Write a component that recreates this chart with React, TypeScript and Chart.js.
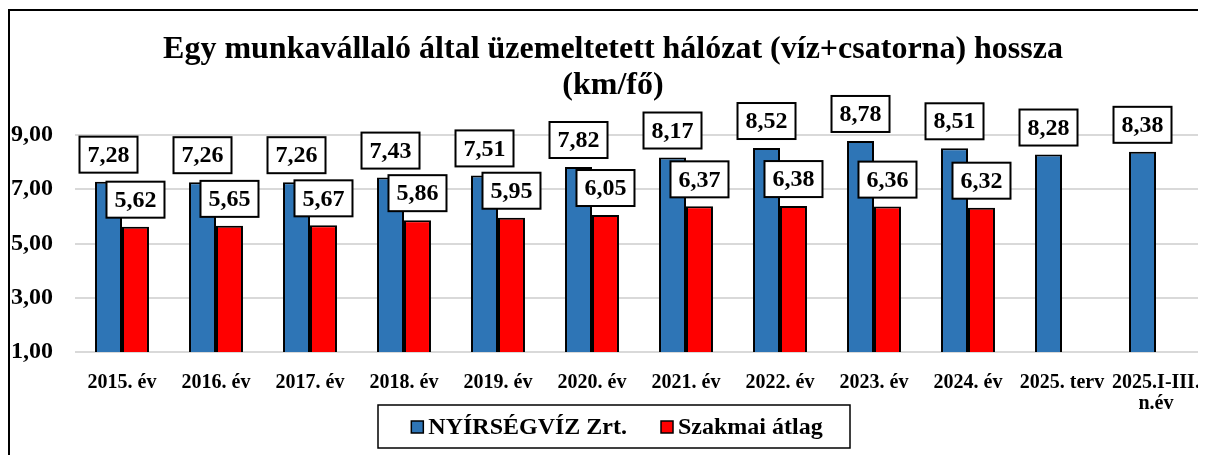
import React, { useEffect, useRef } from "react";
import { Chart, registerables } from "chart.js";

Chart.register(...registerables);

const categories: (string | string[])[] = [
  "2015. év", "2016. év", "2017. év", "2018. év", "2019. év", "2020. év",
  "2021. év", "2022. év", "2023. év", "2024. év", "2025. terv", ["2025.I-III.", "n.év"],
];
const nyirsegvizValues: (number | null)[] = [7.28, 7.26, 7.26, 7.43, 7.51, 7.82, 8.17, 8.52, 8.78, 8.51, 8.28, 8.38];
const szakmaiValues: (number | null)[] = [5.62, 5.65, 5.67, 5.86, 5.95, 6.05, 6.37, 6.38, 6.36, 6.32, null, null];
const yTicks: number[] = [1, 3, 5, 7, 9];
const seriesNames: string[] = ["NYÍRSÉGVÍZ Zrt.", "Szakmai átlag"];
const titleLines: string[] = ["Egy munkavállaló által üzemeltetett hálózat (víz+csatorna) hossza", "(km/fő)"];

const FONT = "'Liberation Serif', 'Times New Roman', serif";
const BLUE = "#2E75B6";
const RED = "#FF0000";

const fmt = (v: number) => v.toFixed(2).replace(".", ",");

const labelPlugin = {
  id: "boxLabels",
  afterDatasetsDraw(chart: any) {
    const ctx = chart.ctx;
    ctx.save();
    ctx.font = `bold 24px ${FONT}`;
    ctx.textAlign = "center";
    ctx.textBaseline = "middle";
    chart.data.datasets.forEach((ds: any, di: number) => {
      const meta = chart.getDatasetMeta(di);
      meta.data.forEach((el: any, i: number) => {
        const v = ds.data[i];
        if (v === null || v === undefined) return;
        const text = fmt(v);
        const w = ctx.measureText(text).width + 16;
        const h = 36;
        const bottom = el.y - 9;
        const x = el.x - w / 2;
        const y = bottom - h;
        ctx.fillStyle = "#fff";
        ctx.fillRect(x, y, w, h);
        ctx.lineWidth = 2;
        ctx.strokeStyle = "#000";
        ctx.strokeRect(x, y, w, h);
        ctx.fillStyle = "#000";
        ctx.fillText(text, el.x, y + h / 2 + 1);
      });
    });
    ctx.restore();
  },
  afterDraw(chart: any) {
    const ctx = chart.ctx;
    ctx.save();
    // title
    ctx.font = `bold 32px ${FONT}`;
    ctx.textAlign = "center";
    ctx.textBaseline = "middle";
    ctx.fillStyle = "#000";
    titleLines.forEach((line, i) => ctx.fillText(line, 603, 39 + i * 36));

    // legend with frame
    ctx.font = `bold 24px ${FONT}`;
    ctx.textBaseline = "alphabetic";
    ctx.textAlign = "left";
    const sq = 12;
    const gapSqText = 5;
    const gapItems = 34;
    const items = chart.data.datasets.map((d: any) => ({
      label: d.label,
      color: d.backgroundColor,
      w: ctx.measureText(d.label).width,
    }));
    const total = items.reduce((s: number, it: any) => s + sq + gapSqText + it.w, 0) + gapItems * (items.length - 1);
    const cx = 607;
    let x = cx - total / 2;
    const boxW = 472;
    const boxH = 43;
    const boxX = 604 - boxW / 2;
    const boxY = 394;
    ctx.lineWidth = 1.5;
    ctx.strokeStyle = "#000";
    ctx.strokeRect(boxX, boxY, boxW, boxH);
    const baseline = 423;
    items.forEach((it: any) => {
      ctx.fillStyle = it.color;
      ctx.fillRect(x, 410, sq, sq);
      ctx.lineWidth = 1.5;
      ctx.strokeStyle = "#000";
      ctx.strokeRect(x, 410, sq, sq);
      ctx.fillStyle = "#000";
      ctx.fillText(it.label, x + sq + gapSqText, baseline);
      x += sq + gapSqText + it.w + gapItems;
    });
    ctx.restore();
  },
};

export default function App() {
  const ref = useRef<HTMLCanvasElement>(null);
  useEffect(() => {
    document.documentElement.style.overflow = "hidden";
    document.body.style.overflow = "hidden";
    const chart = new Chart(ref.current as HTMLCanvasElement, {
      type: "bar",
      data: {
        labels: categories,
        datasets: [
          {
            label: seriesNames[0],
            data: nyirsegvizValues,
            backgroundColor: BLUE,
            borderColor: "#000",
            borderWidth: 2,
            categoryPercentage: 0.574,
            barPercentage: 1,
          },
          {
            label: seriesNames[1],
            data: szakmaiValues,
            backgroundColor: RED,
            borderColor: "#000",
            borderWidth: 2,
            categoryPercentage: 0.574,
            barPercentage: 1,
          },
        ],
      },
      options: {
        responsive: false,
        animation: false,
        devicePixelRatio: 1,
        layout: { padding: { left: 0, right: 13, top: 124, bottom: 44 } },
        plugins: {
          legend: { display: false },
          tooltip: { enabled: false },
          title: { display: false },
        },
        scales: {
          x: {
            grid: { display: false },
            border: { display: false },
            ticks: {
              color: "#000",
              font: { family: FONT, size: 20, weight: "bold", lineHeight: 1.05 },
              padding: 12,
              maxRotation: 0,
              autoSkip: false,
            },
            afterFit(scale: any) {
              scale.height = 60;
            },
          },
          y: {
            min: 1,
            max: 9,
            border: { display: false },
            grid: { color: "#d9d9d9", lineWidth: 2, drawTicks: false },
            ticks: {
              color: "#000",
              font: { family: FONT, size: 24, weight: "bold" },
              padding: 22,
              callback: (v: any) => fmt(Number(v)),
            },
            afterBuildTicks(scale: any) {
              scale.ticks = yTicks.map((v) => ({ value: v }));
            },
            afterFit(scale: any) {
              scale.width = 65;
            },
          },
        },
      },
      plugins: [labelPlugin],
    } as any);
    return () => chart.destroy();
  }, []);

  return (
    <div
      style={{
        position: "relative",
        top: 1,
        width: 1198,
        height: 447,
        borderLeft: "2px solid #000",
        borderTop: "2px solid #000",
        boxSizing: "border-box",
        overflow: "hidden",
        background: "#fff",
      }}
    >
      <canvas ref={ref} width={1206} height={445} style={{ display: "block" }} />
    </div>
  );
}
